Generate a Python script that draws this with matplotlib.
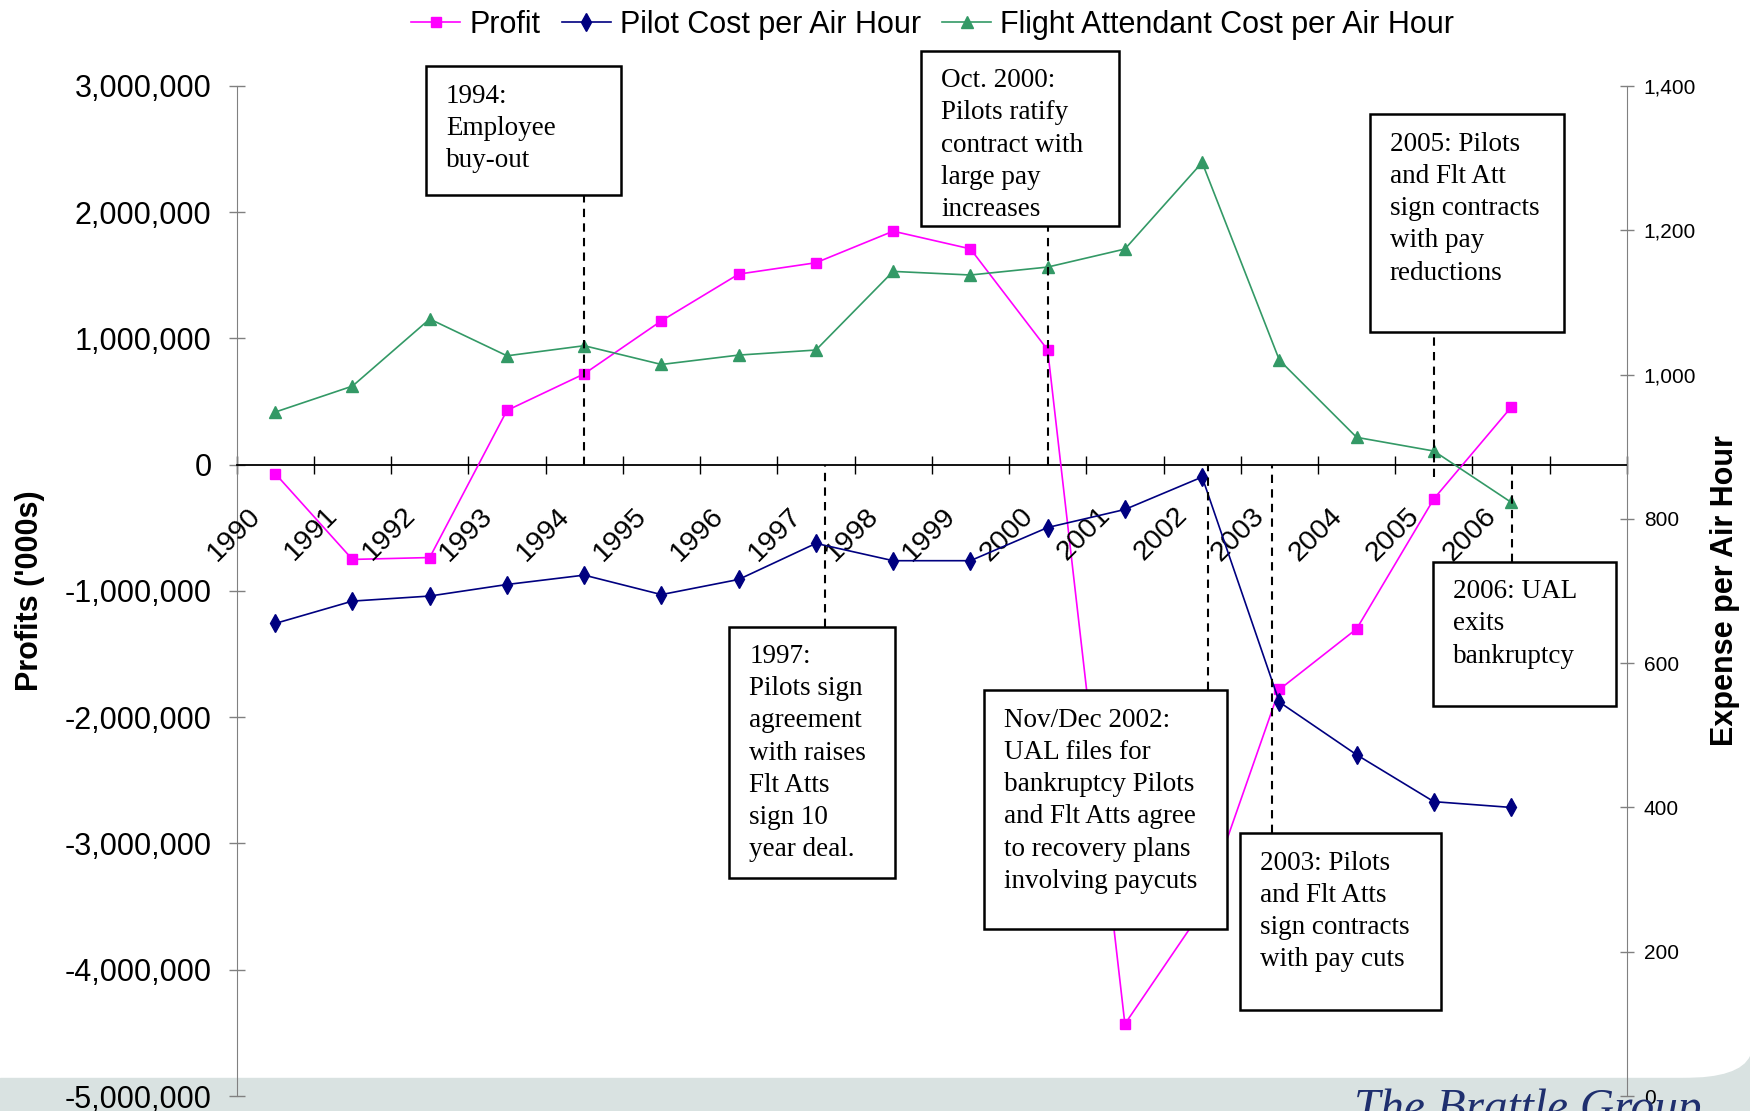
import numpy as np
import matplotlib.pyplot as plt
from matplotlib.patches import Rectangle, PathPatch
from matplotlib.path import Path
from matplotlib.ticker import FuncFormatter

plt.rcParams['font.family'] = ['Liberation Sans', 'DejaVu Sans']

# ------------------------------------------------------
# Data
# ------------------------------------------------------
years = [str(y) for y in range(1990, 2007)]
profit = [-70000, -750000, -735000, 430000, 720000, 1140000, 1510000, 1600000,
          1850000, 1710000, 910000, -4430000, -3530000, -1780000, -1300000,
          -270000, 455000]
pilot_cost = [655, 686, 693, 709, 722, 695, 716, 766, 742, 742, 788, 813, 858,
              546, 473, 408, 400]
fa_cost = [948, 984, 1077, 1026, 1040, 1014, 1027, 1034, 1143, 1138, 1149, 1174,
           1294, 1020, 913, 894, 823]

# event notes: text, dashed line x, dashed line y-range, box (x0, x1, y0, y1)
notes = [
    ("1994:\nEmployee\nbuy-out", 4.0, (0, 2.14e6), (1.95, 4.48, 2.14e6, 3.156e6)),
    ("Oct. 2000:\nPilots ratify\ncontract with\nlarge pay\nincreases",
     10.0, (0, 1.892e6), (8.36, 10.92, 1.892e6, 3.28e6)),
    ("2005: Pilots\nand Flt Att\nsign contracts\nwith pay\nreductions",
     15.0, (-0.1e6, 1.052e6), (14.17, 16.69, 1.052e6, 2.776e6)),
    ("1997:\nPilots sign\nagreement\nwith raises\nFlt Atts\nsign 10\nyear deal.",
     7.12, (-1.282e6, 0), (5.88, 8.03, -3.271e6, -1.282e6)),
    ("Nov/Dec 2002:\nUAL files for\nbankruptcy Pilots\nand Flt Atts agree\nto recovery plans\ninvolving paycuts",
     12.07, (-1.786e6, 0), (9.18, 12.32, -3.678e6, -1.786e6)),
    ("2003: Pilots\nand Flt Atts\nsign contracts\nwith pay cuts",
     12.91, (-2.918e6, 0), (12.49, 15.09, -4.315e6, -2.918e6)),
    ("2006: UAL\nexits\nbankruptcy", 16.01, (-0.769e6, 0), (14.99, 17.36, -1.91e6, -0.769e6)),
]

# ------------------------------------------------------
# Figure
# ------------------------------------------------------
fig = plt.figure(figsize=(17.5, 11.11), dpi=100)
ax = fig.add_axes([0.1352, 0.0135, 0.7945, 0.9091])
ax.patch.set_visible(False)
ax2 = ax.twinx()

# slide footer band with rounded right end
band = '#D9E2E1'
fig.add_artist(Rectangle((0, 0), 1, 0.0297, transform=fig.transFigure,
                         color=band, zorder=-5))
curve = Path([(0.9617, 0.0297), (0.9943, 0.0297), (1.0, 0.0495), (1.0, 0.0297),
              (0.9617, 0.0297)],
             [Path.MOVETO, Path.CURVE3, Path.CURVE3, Path.LINETO, Path.CLOSEPOLY])
fig.add_artist(PathPatch(curve, transform=fig.transFigure, color=band, lw=0,
                         zorder=-5))
fig.text(0.774, -0.009, "The Brattle Group", fontsize=34, style='italic',
         family='Liberation Serif', color='#1F2F6E', va='baseline')

x = np.arange(len(years))
l1, = ax.plot(x, profit, color='#FF00FF', lw=1.2, marker='s', ms=7.5,
              label='Profit', zorder=3)
l2, = ax2.plot(x, pilot_cost, color='#000080', lw=1.2, marker='d', ms=9,
               label='Pilot Cost per Air Hour', zorder=3)
l3, = ax2.plot(x, fa_cost, color='#339966', lw=1.2, marker='^', ms=8.5,
               label='Flight Attendant Cost per Air Hour', zorder=3)

# left axis
ax.set_xlim(-0.5, 17.5)
ax.set_ylim(-5e6, 3e6)
ax.set_yticks(np.arange(-5e6, 3.1e6, 1e6))
ax.yaxis.set_major_formatter(FuncFormatter(lambda v, _: f"{v:,.0f}"))
ax.tick_params(axis='y', direction='inout', length=12, width=1, color='#808080',
               labelsize=22, pad=12)
ax.spines['top'].set_visible(False)
ax.spines['right'].set_visible(False)
ax.spines['left'].set_color('#808080')
ax.spines['bottom'].set_position(('data', 0))
ax.spines['bottom'].set_linewidth(1.3)
ax.set_xticks(np.arange(-0.5, 18, 1))
ax.tick_params(axis='x', direction='inout', length=13, width=1, color='black',
               labelbottom=False)
for i, yr in enumerate(years):
    ax.text(i - 0.12, -0.3e6, yr, rotation=45, ha='right', va='top', fontsize=20.5)

# right axis
ax2.set_ylim(0, 1400)
ax2.set_yticks(np.arange(0, 1401, 200))
ax2.yaxis.set_major_formatter(FuncFormatter(lambda v, _: f"{v:,.0f}"))
ax2.tick_params(axis='y', direction='inout', length=10, width=1, color='#808080',
                labelsize=15, pad=7)
for s in ['top', 'left', 'bottom']:
    ax2.spines[s].set_visible(False)
ax2.spines['right'].set_color('#808080')

fig.text(0.017, 0.468, "Profits ('000s)", rotation=90, ha='center', va='center',
         fontsize=22, fontweight='bold')
fig.text(0.986, 0.468, "Expense per Air Hour", rotation=90, ha='center', va='center',
         fontsize=22, fontweight='bold')

# event notes
for text, lx, (ly0, ly1), (bx0, bx1, by0, by1) in notes:
    ax2.plot([lx, lx], [ly0, ly1], transform=ax.transData, color='black',
             lw=1.5, ls=(0, (4, 3)), zorder=4, clip_on=False)
    ax2.add_patch(Rectangle((bx0, by0), bx1 - bx0, by1 - by0, transform=ax.transData,
                            facecolor='white', edgecolor='black', lw=1.8,
                            zorder=5, clip_on=False))
    ax2.text(bx0 + 0.26, by1 - 0.138e6, text, transform=ax.transData, ha='left',
             va='top', fontsize=19.5, family='Liberation Serif', linespacing=1.38,
             zorder=6)

fig.legend([l1, l2, l3], [l1.get_label(), l2.get_label(), l3.get_label()],
           loc='upper center', bbox_to_anchor=(0.533, 1.016), ncol=3, frameon=False,
           fontsize=22, handlelength=1.6, handletextpad=0.3, columnspacing=0.7)

fig.savefig('out.png', dpi=100)
